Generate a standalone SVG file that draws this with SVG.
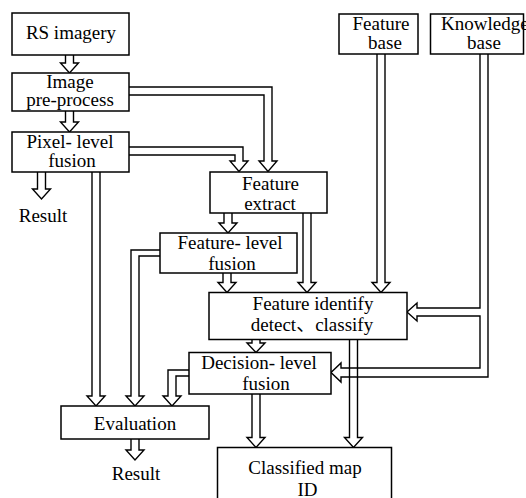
<svg xmlns="http://www.w3.org/2000/svg" width="526" height="498" viewBox="0 0 526 498">
<style>
.box{fill:#fff;stroke:#000;stroke-width:1.5}
.t{font-family:"Liberation Serif","Times New Roman","DejaVu Serif",serif;font-size:19px;fill:#000;text-anchor:middle}
.cjk{font-family:"Noto Sans CJK SC",sans-serif}
.a{fill:none;stroke:#000;stroke-width:1.4;stroke-linejoin:miter}
</style>
<rect x="0" y="0" width="526" height="498" fill="#fff"/>
<g id="connectors">
<path class="a" d="M65.5,55 V63 H60.5 L69.5,73 L78.5,63 H73.5 V55"/>
<path class="a" d="M65.5,111 V122 H60.5 L69.5,132 L78.5,122 H73.5 V111"/>
<path class="a" d="M37.5,172 V189 H32.5 L41.5,199 L50.5,189 H45.5 V172"/>
<path class="a" d="M129,87 H272 V161 H277 L268,171.5 L259,161 H264 V95 H129"/>
<path class="a" d="M129,147 H243 V161 H248 L239,171.5 L230,161 H235 V155 H129"/>
<path class="a" d="M92,172 V396 H87 L96,406 L105,396 H100 V172"/>
<path class="a" d="M224,213 V223 H219 L228,233 L237,223 H232 V213"/>
<path class="a" d="M303,213 V282.5 H298 L307,292.5 L316,282.5 H311 V213"/>
<path class="a" d="M223,273 V282.5 H218 L227,292.5 L236,282.5 H231 V273"/>
<path class="a" d="M160,250 H131 V396 H126 L135,406 L144,396 H139 V256 H160"/>
<path class="a" d="M377,54 V282.5 H372 L381,292.5 L390,282.5 H385 V54"/>
<path class="a" d="M480,54 V308 H417 V303 L407,312 L417,321 V316 H480 V368 H341 V363 L331,372.5 L341,382 V377 H488 V54"/>
<path class="a" d="M252,339.5 V343 H247 L256,352.5 L265,343 H260 V339.5"/>
<path class="a" d="M349.5,339.5 V437.5 H344.5 L353.5,447.5 L362.5,437.5 H357.5 V339.5"/>
<path class="a" d="M252,394 V437.5 H247 L256,447.5 L265,437.5 H260 V394"/>
<path class="a" d="M189,370 H168 V396 H163 L172,406 L181,396 H176 V376 H189"/>
<path class="a" d="M131,439 V450 H126 L135,460 L144,450 H139 V439"/>
</g>
<g id="rs"><rect class="box" x="12" y="13" width="117" height="42"/><text class="t" x="71" y="39">RS imagery</text></g>
<g id="image"><rect class="box" x="12" y="73" width="117" height="38"/><text class="t" x="70" y="88">Image</text><text class="t" x="70" y="106">pre-process</text></g>
<g id="pixel"><rect class="box" x="12" y="132" width="117" height="40"/><text class="t" x="70" y="147.5">Pixel- level</text><text class="t" x="72" y="166.5">fusion</text></g>
<g id="result1"><text class="t" x="43" y="221.5">Result</text></g>
<g id="featurebase"><rect class="box" x="339" y="14" width="79" height="40"/><text class="t" x="381" y="29.5">Feature</text><text class="t" x="385" y="49">base</text></g>
<g id="knowledge"><rect class="box" x="430.5" y="14" width="93" height="40"/><text class="t" x="441" y="29.5" style="text-anchor:start">Knowledge</text><text class="t" x="484" y="49">base</text></g>
<g id="extract"><rect class="box" x="210" y="172" width="117" height="41"/><text class="t" x="270.5" y="189.5">Feature</text><text class="t" x="270" y="210">extract</text></g>
<g id="featurelevel"><rect class="box" x="160" y="233" width="137" height="40"/><text class="t" x="230" y="249">Feature- level</text><text class="t" x="232" y="270">fusion</text></g>
<g id="identify"><rect class="box" x="209" y="292.5" width="198" height="47"/><text class="t" x="313" y="310">Feature identify</text><text class="t" x="312" y="330.5">detect<tspan class="cjk">、</tspan>classify</text></g>
<g id="decision"><rect class="box" x="189" y="352.5" width="142" height="41.5"/><text class="t" x="259" y="368.5">Decision- level</text><text class="t" x="266" y="389.5">fusion</text></g>
<g id="evaluation"><rect class="box" x="61" y="406" width="148" height="33"/><text class="t" x="135" y="430">Evaluation</text></g>
<g id="result2"><text class="t" x="136" y="480">Result</text></g>
<g id="classified"><rect class="box" x="217.5" y="447.5" width="174" height="60"/><text class="t" x="305" y="473.5">Classified map</text><text class="t" x="307.5" y="496">ID</text></g>
</svg>
